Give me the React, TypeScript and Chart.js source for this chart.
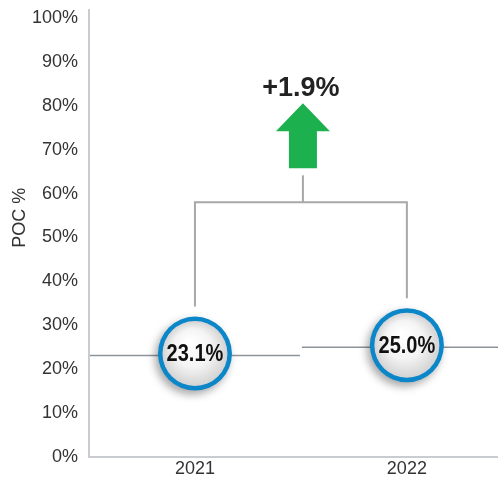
import React, { useEffect, useRef } from 'react';
import { Chart, registerables } from 'chart.js';

Chart.register(...registerables);

const years: string[] = ['2021', '2022'];
const pocValues: number[] = [23.1, 25.0];
const yTickValues: number[] = [0, 10, 20, 30, 40, 50, 60, 70, 80, 90, 100];
const yAxisTitle = 'POC %';
const bracketLevel = 58;

const FONT = '"Liberation Sans", Arial, Helvetica, sans-serif';

const annotPlugin = {
  id: 'pocAnnot',
  afterDatasetsDraw(chart: any) {
    const ctx: CanvasRenderingContext2D = chart.ctx;
    const xs = chart.scales.x;
    const ys = chart.scales.y;
    const meta = chart.getDatasetMeta(0);
    const R = 37;

    // y axis title
    ctx.save();
    ctx.translate(20, ys.getPixelForValue(54.5));
    ctx.rotate(-Math.PI / 2);
    ctx.font = `18px ${FONT}`;
    ctx.fillStyle = '#333333';
    ctx.textAlign = 'center';
    ctx.textBaseline = 'middle';
    ctx.fillText(yAxisTitle, 0, 0);
    ctx.restore();

    // value lines per category
    ctx.save();
    ctx.strokeStyle = '#8c949b';
    ctx.lineWidth = 1.5;
    pocValues.forEach((v, i) => {
      const py = ys.getPixelForValue(v);
      const x0 = Math.max(xs.getPixelForValue(i - 0.5), chart.chartArea.left) + 1;
      const x1 = xs.getPixelForValue(i + 0.5) - 1;
      ctx.beginPath();
      ctx.moveTo(x0, py);
      ctx.lineTo(x1, py);
      ctx.stroke();
    });
    ctx.restore();

    // bracket connector
    const by = ys.getPixelForValue(bracketLevel);
    const pts = meta.data.map((el: any) => ({ x: el.x, y: el.y }));
    ctx.save();
    ctx.strokeStyle = '#a8a8a8';
    ctx.lineWidth = 2;
    ctx.beginPath();
    ctx.moveTo(pts[0].x, pts[0].y - R - 12);
    ctx.lineTo(pts[0].x, by);
    ctx.lineTo(pts[1].x, by);
    ctx.lineTo(pts[1].x, pts[1].y - R - 12);
    ctx.stroke();
    const mx = xs.getPixelForValue(0.5) + 2;
    const stemTop = by - 27;
    ctx.beginPath();
    ctx.moveTo(mx, by);
    ctx.lineTo(mx, stemTop);
    ctx.stroke();
    ctx.restore();

    // green arrow
    const ab = stemTop - 7;
    const headBase = ab - 37;
    const tip = headBase - 28;
    ctx.save();
    ctx.fillStyle = '#1db04f';
    ctx.beginPath();
    ctx.moveTo(mx - 14, ab);
    ctx.lineTo(mx - 14, headBase);
    ctx.lineTo(mx - 27, headBase);
    ctx.lineTo(mx, tip);
    ctx.lineTo(mx + 27, headBase);
    ctx.lineTo(mx + 14, headBase);
    ctx.lineTo(mx + 14, ab);
    ctx.closePath();
    ctx.fill();
    // delta label
    const delta = pocValues[1] - pocValues[0];
    ctx.font = `bold 27px ${FONT}`;
    ctx.fillStyle = '#222222';
    ctx.textAlign = 'center';
    ctx.textBaseline = 'alphabetic';
    ctx.fillText(`${delta >= 0 ? '+' : ''}${delta.toFixed(1)}%`, mx - 2, tip - 7);
    ctx.restore();

    // circles
    pts.forEach((p: any, i: number) => {
      const cx = p.x;
      const cy = p.y - 2;
      ctx.save();
      ctx.shadowColor = 'rgba(0,0,0,0.35)';
      ctx.shadowBlur = 9;
      ctx.shadowOffsetX = -3;
      ctx.shadowOffsetY = 4;
      ctx.beginPath();
      ctx.arc(cx, cy, R, 0, Math.PI * 2);
      ctx.fillStyle = '#0a86c9';
      ctx.fill();
      ctx.restore();

      ctx.save();
      const g = ctx.createRadialGradient(cx - 6, cy - 12, 2, cx, cy, 33);
      g.addColorStop(0, '#ffffff');
      g.addColorStop(0.55, '#f4f4f4');
      g.addColorStop(1, '#d2d2d2');
      ctx.beginPath();
      ctx.arc(cx, cy, 32.5, 0, Math.PI * 2);
      ctx.fillStyle = g;
      ctx.fill();

      ctx.translate(cx, cy + 1);
      ctx.scale(0.87, 1);
      ctx.font = `bold 23px ${FONT}`;
      ctx.fillStyle = '#111111';
      ctx.textAlign = 'center';
      ctx.textBaseline = 'middle';
      ctx.fillText(`${pocValues[i].toFixed(1)}%`, 0, 0);
      ctx.restore();
    });
  },
};

export default function App() {
  const ref = useRef<HTMLCanvasElement>(null);

  useEffect(() => {
    const canvas = ref.current;
    if (!canvas) return;
    const chart = new Chart(canvas, {
      type: 'scatter',
      data: {
        datasets: [
          {
            label: 'POC %',
            data: pocValues.map((v, i) => ({ x: i, y: v })),
            pointRadius: 0,
            pointHoverRadius: 0,
            showLine: false,
          },
        ],
      },
      options: {
        animation: false,
        responsive: false,
        devicePixelRatio: 1,
        layout: { padding: { top: 10, right: 0, bottom: 0, left: 0 } },
        plugins: { legend: { display: false }, tooltip: { enabled: false } },
        scales: {
          x: {
            type: 'linear',
            min: -0.5,
            max: 1.43,
            grid: { display: false, drawTicks: false },
            border: { display: true, color: '#c9cdd2', width: 2 },
            afterBuildTicks: (s: any) => {
              s.ticks = years.map((_, i) => ({ value: i }));
            },
            ticks: {
              callback: (v: any) => years[v as number] ?? '',
              font: { family: FONT, size: 18 },
              color: '#333333',
              padding: 1,
              maxRotation: 0,
              autoSkip: false,
            },
            afterFit: (s: any) => {
              s.height = 23;
              s.paddingLeft = 0;
              s.paddingRight = 0;
            },
          },
          y: {
            type: 'linear',
            min: 0,
            max: 101.8,
            grid: { display: false, drawTicks: false },
            border: { display: true, color: '#c9cdd2', width: 2 },
            afterBuildTicks: (s: any) => {
              s.ticks = yTickValues.map((v) => ({ value: v }));
            },
            ticks: {
              callback: (v: any) => `${v}%`,
              font: { family: FONT, size: 18 },
              color: '#333333',
              padding: 11,
            },
            afterFit: (s: any) => {
              s.width = 89;
              s.paddingTop = 0;
              s.paddingBottom = 0;
            },
          },
        },
      },
      plugins: [annotPlugin],
    });
    return () => chart.destroy();
  }, []);

  return (
    <div style={{ position: 'fixed', left: 0, top: 0, width: 498, height: 480, background: '#ffffff' }}>
      <canvas ref={ref} width={498} height={480} style={{ display: 'block' }} />
    </div>
  );
}
